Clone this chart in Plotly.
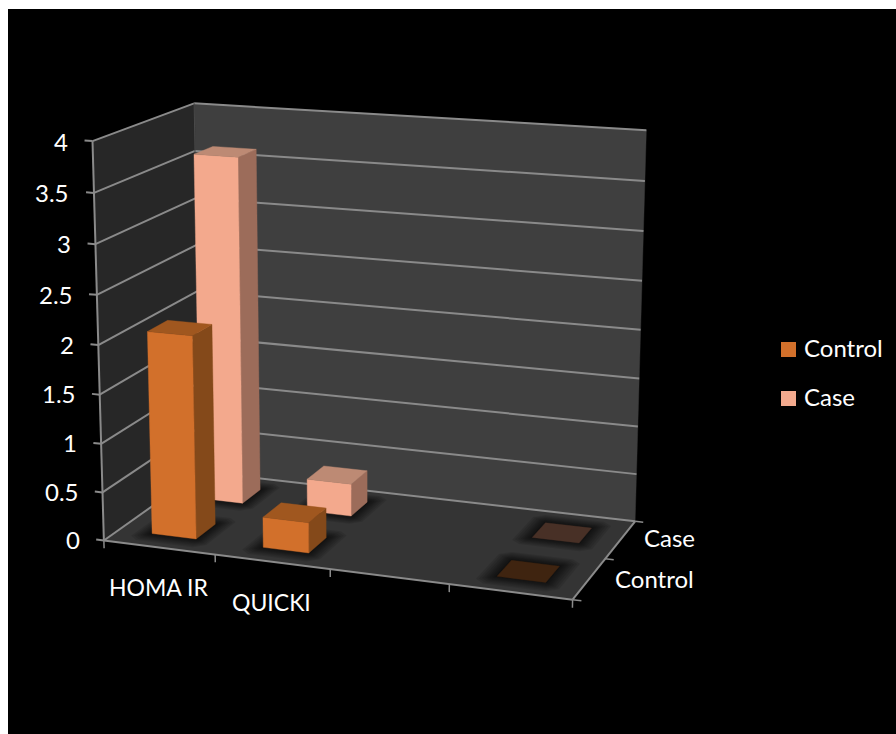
import numpy as np
import plotly.graph_objects as go

# ---- chart data ----
categories = ["HOMA IR", "QUICKI", "", ""]
series_names = ["Control", "Case"]
control_values = [2.08, 0.31, None, 0.0]
case_values = [3.63, 0.34, None, 0.0]
value_ticks = [0, 0.5, 1, 1.5, 2, 2.5, 3, 3.5, 4]
value_labels = ["0", "0.5", "1", "1.5", "2", "2.5", "3", "3.5", "4"]

# ---- styling ----
FONT = "Lato"
FONT_SIZE = 24
CATEGORY_FONT_SIZE = 23
GRID = "#8a8a8a"
BACK_WALL = "#3f3f3f"
SIDE_WALL = "#272727"
FLOOR = "#343434"
FACE_COLORS = {
    "Control": {"front": "#d2702b", "side": "#84491a", "top": "#a0571f", "flat": "#3f2410"},
    "Case": {"front": "#f3a98d", "side": "#9c6c5a", "top": "#bd8a74", "flat": "#483026"},
}
BAR_X = (0.30, 0.70)   # bar span inside a category slot
BAR_Y = (0.30, 0.70)   # bar span inside a series row
N_CAT, N_ROW, Z_MAX = 4, 2, 4

# Perspective camera of the 3-D box: (category, row, value) -> screen position,
# solved by least squares from known places on the box edges.
CAMERA_POINTS = [
    ((0, 0, 0), (104, 541)), ((4, 0, 0), (571.7, 599)), ((4, 2, 0), (634, 520.7)),
    ((0, 2, 0), (200, 472)), ((0, 0, 4), (90.7, 141.7)), ((0, 2, 4), (194.3, 103.3)),
    ((4, 2, 4), (646, 130)), ((1, 0, 0), (215, 556)), ((2, 0, 0), (330, 570.7)),
    ((3, 0, 0), (448, 585)), ((4, 1, 0), (608, 557)),
    ((0, 0, 3.5), (94.3, 192.7)), ((0, 0, 3), (96, 244)), ((0, 0, 2.5), (97.7, 294.7)),
    ((0, 0, 2), (98.3, 345)), ((0, 0, 1), (101.7, 441.7)), ((0, 0, 0.5), (103, 491.7)),
    ((4, 2, 3.5), (645, 180.7)), ((4, 2, 3), (643.7, 231.7)), ((4, 2, 2.5), (642.3, 281)),
    ((4, 2, 2), (640.7, 330)), ((4, 2, 1.5), (639.3, 378.7)),
]


def solve_camera(points):
    rows = []
    for (x, y, z), (u, v) in points:
        rows.append([x, y, z, 1, 0, 0, 0, 0, -u * x, -u * y, -u * z, -u])
        rows.append([0, 0, 0, 0, x, y, z, 1, -v * x, -v * y, -v * z, -v])
    return np.linalg.svd(np.array(rows, float))[2][-1].reshape(3, 4)


CAMERA = solve_camera(CAMERA_POINTS)


def project(x, y, z):
    u, v, w = CAMERA @ np.array([x, y, z, 1.0])
    return u / w, v / w


fig = go.Figure()


def polygon(corners, color, opacity=1.0):
    pts = [project(*c) for c in corners]
    pts.append(pts[0])
    fig.add_trace(go.Scatter(
        x=[p[0] for p in pts], y=[p[1] for p in pts], mode="lines", fill="toself",
        fillcolor=color, line=dict(width=0.4 if opacity == 1 else 0, color=color),
        opacity=opacity, hoverinfo="skip", showlegend=False))


def segment(a, b, width=2, color=GRID):
    pa, pb = project(*a), project(*b)
    fig.add_trace(go.Scatter(
        x=[pa[0], pb[0]], y=[pa[1], pb[1]], mode="lines",
        line=dict(color=color, width=width), hoverinfo="skip", showlegend=False))


def labels(items, anchor="center", size=FONT_SIZE):
    for text, pos in items:
        sx, sy = project(*pos)
        fig.add_annotation(x=sx, y=sy, text=text, showarrow=False, xanchor=anchor,
                           yanchor="middle", font=dict(family=FONT, size=size, color="white"))


def floor_shadow(x0, x1, y0, y1):
    # soft dark halo: stacked translucent footprints, largest first
    for grow in (0.14, 0.12, 0.10, 0.08, 0.065, 0.05, 0.035, 0.02, 0.01):
        gx, gy = grow, grow * 1.4
        c = grow * 0.6
        polygon([
            (x0 - gx + c, y0 - gy, 0), (x1 + gx - c, y0 - gy, 0), (x1 + gx, y0 - gy + c, 0),
            (x1 + gx, y1 + gy - c, 0), (x1 + gx - c, y1 + gy, 0), (x0 - gx + c, y1 + gy, 0),
            (x0 - gx, y1 + gy - c, 0), (x0 - gx, y0 - gy + c, 0),
        ], "#000000", 0.10)


def bar(cat, row, value, name):
    x0, x1 = cat + BAR_X[0], cat + BAR_X[1]
    y0, y1 = row + BAR_Y[0], row + BAR_Y[1]
    c = FACE_COLORS[name]
    if value == 0:
        polygon([(x0, y0, 0), (x1, y0, 0), (x1, y1, 0), (x0, y1, 0)], c["flat"])
        return
    polygon([(x1, y0, 0), (x1, y1, 0), (x1, y1, value), (x1, y0, value)], c["side"])
    polygon([(x0, y0, 0), (x1, y0, 0), (x1, y0, value), (x0, y0, value)], c["front"])
    polygon([(x0, y0, value), (x1, y0, value), (x1, y1, value), (x0, y1, value)], c["top"])


# walls and floor
polygon([(0, 2, 0), (4, 2, 0), (4, 2, 4), (0, 2, 4)], BACK_WALL)
polygon([(0, 0, 0), (0, 2, 0), (0, 2, 4), (0, 0, 4)], SIDE_WALL)
polygon([(0, 0, 0), (4, 0, 0), (4, 2, 0), (0, 2, 0)], FLOOR)

# gridlines wrapping the two walls, with value ticks
for z in value_ticks:
    segment((0, 0, z), (0, 2, z))
    segment((0, 2, z), (4, 2, z))
    segment((-0.07, 0, z), (0, 0, z))
segment((0, 0, 0), (0, 0, 4))
segment((0, 2, 0), (0, 2, 4), color="#4a4a4a", width=1)

# floor edges with category and row ticks
segment((0, 0, 0), (4, 0, 0))
segment((4, 0, 0), (4, 2, 0))
for i in range(N_CAT + 1):
    segment((i, 0, 0), (i, 0, -0.08), width=1.5)
for j in range(N_ROW + 1):
    segment((4, j, 0), (4.07, j, 0), width=1.5)

# shadows first, then bars from the back row forward
all_series = [("Control", 0, control_values), ("Case", 1, case_values)]
for name, row, values in all_series:
    for cat, v in enumerate(values):
        if v is not None:
            floor_shadow(cat + BAR_X[0], cat + BAR_X[1], row + BAR_Y[0], row + BAR_Y[1])
for name, row, values in reversed(all_series):
    for cat, v in enumerate(values):
        if v is not None:
            bar(cat, row, v, name)

# axis labels
labels([(t, (-0.2, 0, z - 0.015)) for t, z in zip(value_labels, value_ticks)], anchor="right")
labels([(c, (i + 0.49, 0, -0.41)) for i, c in enumerate(categories) if c], size=CATEGORY_FONT_SIZE)
labels([("Control", (4.52, 0.5, 0.08)), ("Case", (4.41, 1.5, 0.08))])

# legend block
LEGEND_X, LEGEND_TEXT_X = 788.5, 802
for name, ly in zip(series_names, (349.5, 398.5)):
    fig.add_trace(go.Scatter(
        x=[LEGEND_X], y=[ly], mode="markers", hoverinfo="skip", showlegend=False,
        marker=dict(symbol="square", size=15, color=FACE_COLORS[name]["front"], line=dict(width=0))))
    fig.add_annotation(x=LEGEND_TEXT_X, y=ly - 2, text=name, showarrow=False, xanchor="left",
                       yanchor="middle", font=dict(family=FONT, size=FONT_SIZE, color="white"))

fig.update_layout(
    width=896, height=734, margin=dict(l=0, r=0, t=0, b=0, pad=0), autosize=False,
    paper_bgcolor="white", plot_bgcolor="white", showlegend=False,
    xaxis=dict(range=[0, 896], visible=False, fixedrange=True),
    yaxis=dict(range=[734, 0], visible=False, fixedrange=True),
    shapes=[dict(type="rect", xref="x", yref="y", x0=8, x1=896, y0=9, y1=734,
                 fillcolor="black", line=dict(width=0), layer="below")],
)
fig.write_html("out.html")
